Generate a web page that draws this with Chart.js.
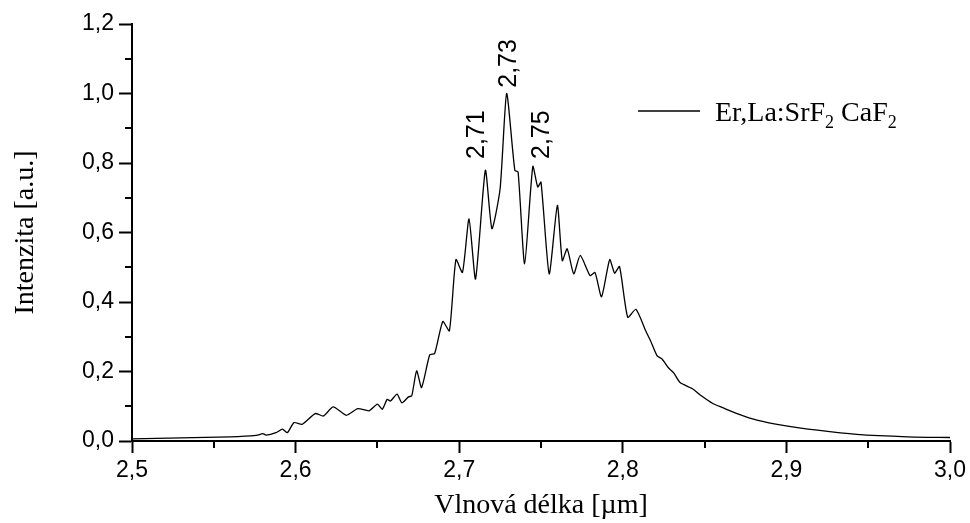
<!DOCTYPE html>
<html>
<head>
<meta charset="utf-8">
<script src="https://cdn.jsdelivr.net/npm/chart.js@4.4.1/dist/chart.umd.min.js"></script>
<style>
  html, body { margin: 0; padding: 0; background: #fff; }
  #wrap { width: 970px; height: 523px; position: relative; }
</style>
</head>
<body>
<div id="wrap"><canvas id="spectrum"></canvas></div>
<script>
// wavelength [um] and normalised intensity
const wavelength = [2.500, 2.560, 2.576, 2.580, 2.582, 2.588, 2.592, 2.595, 2.599, 2.604,
  2.612, 2.617, 2.623, 2.631, 2.638, 2.645, 2.650, 2.653, 2.656, 2.658,
  2.662, 2.665, 2.669, 2.671, 2.674, 2.677, 2.682, 2.685, 2.690, 2.694,
  2.698, 2.702, 2.706, 2.710, 2.716, 2.720, 2.725, 2.729, 2.734, 2.736,
  2.740, 2.745, 2.748, 2.750, 2.755, 2.760, 2.763, 2.766, 2.770, 2.774,
  2.780, 2.783, 2.787, 2.792, 2.795, 2.798, 2.803, 2.808, 2.814, 2.817,
  2.821, 2.824, 2.828, 2.831, 2.835, 2.843, 2.848, 2.855, 2.861, 2.872,
  2.882, 2.898, 2.919, 2.943, 2.974, 3.000];
const intensity = [0.006, 0.012, 0.016, 0.021, 0.017, 0.024, 0.034, 0.024, 0.053, 0.048,
  0.079, 0.072, 0.098, 0.074, 0.093, 0.087, 0.106, 0.091, 0.120, 0.115,
  0.135, 0.110, 0.127, 0.130, 0.202, 0.154, 0.248, 0.252, 0.344, 0.317,
  0.522, 0.485, 0.639, 0.466, 0.779, 0.611, 0.726, 1.000, 0.779, 0.774,
  0.510, 0.790, 0.731, 0.745, 0.481, 0.678, 0.519, 0.553, 0.481, 0.534,
  0.476, 0.485, 0.415, 0.522, 0.483, 0.502, 0.356, 0.379, 0.317, 0.288,
  0.245, 0.236, 0.210, 0.197, 0.168, 0.149, 0.130, 0.108, 0.096, 0.075,
  0.060, 0.045, 0.031, 0.019, 0.012, 0.010];

// peak labels (anchor = bottom centre of the rotated text)
const peakNames = ['2,71', '2,73', '2,75'];
const peakX = [2.711, 2.7305, 2.7506];
const peakY = [0.80, 1.005, 0.80];

const seriesName = 'Er,La:SrF2 CaF2';

const xTicks = { min: 2.5, max: 3.0, step: 0.05 };
const yTicks = { min: 0, max: 1.2, step: 0.1 };

const serif = '"Liberation Serif", "Times New Roman", serif';
const sans = '"Liberation Sans", Arial, sans-serif';

function comma(v) {
  return v.toFixed(1).replace('.', ',');
}

// short minor ticks between the labelled ones
const minorTicks = {
  id: 'minorTicks',
  afterDraw(chart) {
    const ctx = chart.ctx;
    const xs = chart.scales.x, ys = chart.scales.y;
    ctx.save();
    ctx.strokeStyle = '#000';
    ctx.lineWidth = 2;
    xs.ticks.forEach((t, i) => {
      if (i % 2 === 0) return;
      const px = Math.round(xs.getPixelForValue(t.value));
      ctx.beginPath();
      ctx.moveTo(px, xs.top);
      ctx.lineTo(px, xs.top + 7);
      ctx.stroke();
    });
    ys.ticks.forEach((t, i) => {
      if (i % 2 === 0) return;
      const py = Math.round(ys.getPixelForValue(t.value));
      ctx.beginPath();
      ctx.moveTo(ys.right, py);
      ctx.lineTo(ys.right - 7, py);
      ctx.stroke();
    });
    ctx.restore();
  }
};

// rotated wavelength labels above the three peaks
const peakLabels = {
  id: 'peakLabels',
  afterDatasetsDraw(chart) {
    const ctx = chart.ctx;
    const xs = chart.scales.x, ys = chart.scales.y;
    ctx.save();
    ctx.fillStyle = '#000';
    ctx.font = '25px ' + sans;
    ctx.textAlign = 'left';
    ctx.textBaseline = 'middle';
    peakNames.forEach((name, i) => {
      const px = xs.getPixelForValue(peakX[i]);
      const py = ys.getPixelForValue(peakY[i]);
      ctx.save();
      ctx.translate(px, py - 4);
      ctx.rotate(-Math.PI / 2);
      ctx.fillText(name, 0, 0);
      ctx.restore();
    });
    ctx.restore();
  }
};

// legend with subscripts
const subLegend = {
  id: 'subLegend',
  afterDraw(chart) {
    const ctx = chart.ctx;
    const a = chart.chartArea;
    const lx = a.left + 506, ly = 111;
    ctx.save();
    ctx.strokeStyle = '#000';
    ctx.lineWidth = 1.3;
    ctx.beginPath();
    ctx.moveTo(lx, ly);
    ctx.lineTo(lx + 62, ly);
    ctx.stroke();

    const parts = [['Er,La:SrF', false], ['2', true], [' CaF', false], ['2', true]];
    let x = lx + 77;
    const base = ly + 10;
    ctx.fillStyle = '#000';
    ctx.textBaseline = 'alphabetic';
    parts.forEach(([txt, sub]) => {
      ctx.font = (sub ? '18px ' : '28px ') + serif;
      ctx.fillText(txt, x, sub ? base + 7 : base);
      x += ctx.measureText(txt).width;
    });
    ctx.restore();
  }
};

const points = wavelength.map((w, i) => ({ x: w, y: intensity[i] }));

new Chart(document.getElementById('spectrum'), {
  type: 'line',
  data: {
    datasets: [{
      label: seriesName,
      data: points,
      borderColor: '#000',
      borderWidth: 1.3,
      pointRadius: 0,
      tension: 0.2,
      fill: false
    }]
  },
  options: {
    responsive: true,
    maintainAspectRatio: false,
    animation: false,
    layout: { padding: { top: 24, right: 20, left: 0, bottom: 0 } },
    plugins: {
      legend: { display: false },
      tooltip: { enabled: false }
    },
    scales: {
      x: {
        type: 'linear',
        min: xTicks.min,
        max: xTicks.max,
        afterFit: (s) => { s.height = 82; },
        border: { display: true, color: '#000', width: 2 },
        grid: {
          drawOnChartArea: false,
          drawTicks: true,
          tickLength: 12,
          tickWidth: 2,
          tickColor: (c) => (c.index % 2 === 0 ? '#000' : 'rgba(0,0,0,0)')
        },
        ticks: {
          stepSize: xTicks.step,
          autoSkip: false,
          maxRotation: 0,
          padding: 4,
          color: '#000',
          font: { family: sans, size: 23 },
          callback: (v, i) => (i % 2 === 0 ? comma(v) : '')
        },
        title: {
          display: true,
          text: 'Vlnová délka [µm]',
          color: '#000',
          font: { family: serif, size: 28 },
          padding: { top: 0, bottom: 1 }
        }
      },
      y: {
        min: yTicks.min,
        max: yTicks.max,
        afterFit: (s) => { s.width = 132; },
        border: { display: true, color: '#000', width: 2 },
        grid: {
          drawOnChartArea: false,
          drawTicks: true,
          tickLength: 13,
          tickWidth: 2,
          tickColor: (c) => (c.index % 2 === 0 ? '#000' : 'rgba(0,0,0,0)')
        },
        ticks: {
          stepSize: yTicks.step,
          autoSkip: false,
          padding: 5,
          color: '#000',
          font: { family: sans, size: 23 },
          callback: (v, i) => (i % 2 === 0 ? comma(v) : '')
        },
        title: {
          display: true,
          text: 'Intenzita [a.u.]',
          color: '#000',
          font: { family: serif, size: 28 },
          padding: { top: 9, bottom: 0 }
        }
      }
    }
  },
  plugins: [minorTicks, peakLabels, subLegend]
});
</script>
</body>
</html>
